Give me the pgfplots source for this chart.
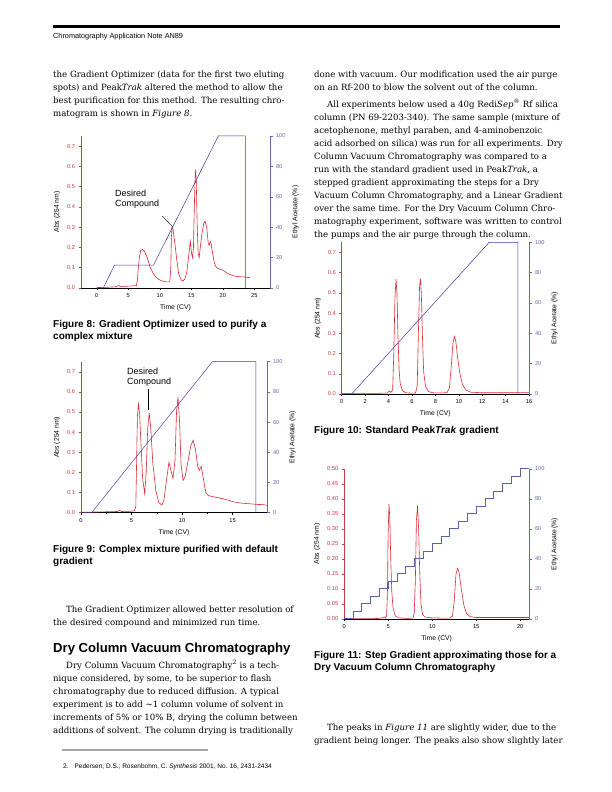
\documentclass[border=0pt]{standalone}
\usepackage{fontspec}
\setmainfont{DejaVu Serif}
\setsansfont{Liberation Sans}
\usepackage{graphicx}
\usepackage{pgfplots}
\pgfplotsset{compat=1.18}

\definecolor{redtr}{RGB}{222,40,52}
\definecolor{redax}{RGB}{205,60,70}
\definecolor{blueax}{RGB}{100,108,175}
\definecolor{bluegr}{RGB}{60,60,160}
\definecolor{bluestep}{RGB}{90,100,165}

\newcommand\tickfont{\fontsize{5.7bp}{6bp}\selectfont\sffamily}
\newcommand\labfont{\fontsize{6.8bp}{7bp}\selectfont\sffamily}
\newcommand\annf{\fontsize{9bp}{10bp}\selectfont\sffamily}
\newcommand\body{\fontsize{8.6bp}{13bp}\selectfont\rmfamily}
\newcommand\capf{\fontsize{10bp}{12bp}\selectfont\sffamily\bfseries}
\newcommand\headf{\fontsize{7.3bp}{8bp}\selectfont\sffamily}
\newcommand\tl[3]{\node[anchor=base west, inner sep=0] at (#1,#2) {\body #3};}
\newcommand\cl[3]{\node[anchor=base west, inner sep=0] at (#1,#2) {\capf #3};}

\pgfplotsset{
  /pgf/number format/assume math mode=true,
  leftax/.style={scale only axis, axis x line*=bottom, axis y line*=left, tick align=outside,
    clip=false, ymin=0, ymax=0.75, ytick={0,0.1,0.2,0.3,0.4,0.5,0.6,0.7},
    axis line style={-},
    y axis line style={redax, line width=0.6pt}, ytick style={redax, line width=0.5pt},
    yticklabel style={text=redax, font=\tickfont, /pgf/number format/.cd, fixed, fixed zerofill, precision=1},
    x axis line style={black, line width=0.5pt}, xtick style={black, line width=0.5pt},
    xticklabel style={font=\tickfont},
    minor x tick num=1,
    major tick length=2.5bp, minor tick length=1.5bp,
    xlabel={Time (CV)}, ylabel={Abs (254 nm)}, label style={font=\labfont},
  },
  rightax/.style={scale only axis, axis x line=none, axis y line*=right, tick align=outside,
    clip=false, ymin=0, ymax=100, ytick={0,20,40,60,80,100},
    axis line style={-},
    y axis line style={blueax, line width=0.6pt}, ytick style={blueax, line width=0.5pt},
    yticklabel style={text=blueax, font=\tickfont},
    major tick length=2.5bp,
    ylabel={Ethyl Acetate (\%)}, label style={font=\labfont},
  },
}

\begin{document}
\begin{tikzpicture}[x=1bp,y=1bp]
\useasboundingbox (0,0) rectangle (612,792);
\fill[white] (0,0) rectangle (612,792);
% header
\draw[line width=3bp] (53,765) -- (560,765);
\node[anchor=base west, inner sep=0] at (53,753.5) {\headf Chromatography Application Note AN89};

% left column text
\tl{53}{714}{the Gradient Optimizer (data for the first two eluting}
\tl{53}{701}{spots) and Peak\textit{Trak} altered the method to allow the}
\tl{53}{688}{best purification for this method. The resulting chro-}
\tl{53}{675}{matogram is shown in \textit{Figure 8}.}

\cl{53}{464.5}{Figure 8: Gradient Optimizer used to purify a}
\cl{53}{452.5}{complex mixture}
\cl{53}{239.5}{Figure 9: Complex mixture purified with default}
\cl{53}{227.5}{gradient}

\tl{66}{179.5}{The Gradient Optimizer allowed better resolution of}
\tl{53}{166.5}{the desired compound and minimized run time.}

\node[anchor=base west, inner sep=0] at (53,139) {\fontsize{13.1bp}{14bp}\selectfont\sffamily\bfseries Dry Column Vacuum Chromatography};

\tl{66}{123.5}{Dry Column Vacuum Chromatography\textsuperscript{2} is a tech-}
\tl{53}{110.5}{nique considered, by some, to be superior to flash}
\tl{53}{97.5}{chromatography due to reduced diffusion. A typical}
\tl{53}{84.5}{experiment is to add \textasciitilde1 column volume of solvent in}
\tl{53}{71.5}{increments of 5\% or 10\% B, drying the column between}
\tl{53}{58.5}{additions of solvent. The column drying is traditionally}

\draw[gray!70, line width=1.3bp] (62,42) -- (208,42);
\node[anchor=base west, inner sep=0] at (63,23.5) {\fontsize{6.5bp}{7bp}\selectfont\sffamily 2.\hspace{6bp}Pedersen, D.S.; Rosenbohm, C. \textit{Synthesis} 2001, No. 16, 2431-2434};

% right column text
\tl{314}{714}{done with vacuum. Our modification used the air purge}
\tl{314}{701}{on an Rf-200 to blow the solvent out of the column.}
\tl{327}{684.5}{All experiments below used a 40g Redi\textit{Sep}\textsuperscript{®} Rf silica}
\tl{314}{671.5}{column (PN 69-2203-340). The same sample (mixture of}
\tl{314}{658.5}{acetophenone, methyl paraben, and 4-aminobenzoic}
\tl{314}{645.5}{acid adsorbed on silica) was run for all experiments. Dry}
\tl{314}{632.5}{Column Vacuum Chromatography was compared to a}
\tl{314}{619.5}{run with the standard gradient used in Peak\textit{Trak}, a}
\tl{314}{606.5}{stepped gradient approximating the steps for a Dry}
\tl{314}{593.5}{Vacuum Column Chromatography, and a Linear Gradient}
\tl{314}{580.5}{over the same time. For the Dry Vacuum Column Chro-}
\tl{314}{567.5}{matography experiment, software was written to control}
\tl{314}{554.5}{the pumps and the air purge through the column.}

\cl{314}{358.5}{Figure 10: Standard Peak\textit{Trak} gradient}
\cl{314}{133.5}{Figure 11: Step Gradient approximating those for a}
\cl{314}{121.5}{Dry Vacuum Column Chromatography}

\tl{327}{61.5}{The peaks in \textit{Figure 11} are slightly wider, due to the}
\tl{314}{48.5}{gradient being longer. The peaks also show slightly later}

% ---------- Figure 8 ----------
\begin{axis}[leftax, at={(81bp,504bp)}, anchor=south west, width=189bp, height=152bp,
  xmin=-2.5, xmax=27.5, xtick={0,5,10,15,20,25}]
\addplot[redtr, line width=0.6pt] coordinates {
(0,0.002)(1,0.003)(2,0.004)(3,0.006)(3.5,0.012)(3.8,0.006)(4.5,0.008)(5.5,0.010)(6.3,0.012)
(6.45,0.04)(6.6,0.10)(6.8,0.16)(7.0,0.185)(7.25,0.19)(7.6,0.18)(8.0,0.15)(8.5,0.10)(9.0,0.07)
(9.5,0.05)(10,0.04)(10.5,0.033)(11,0.03)(11.6,0.03)(11.75,0.10)(11.85,0.25)(11.95,0.30)
(12.1,0.29)(12.4,0.22)(12.7,0.14)(13.0,0.07)(13.4,0.04)(13.7,0.035)(14.0,0.045)(14.3,0.08)
(14.6,0.16)(14.85,0.23)(15.05,0.17)(15.2,0.15)(15.35,0.20)(15.45,0.35)(15.6,0.53)(15.7,0.585)
(15.8,0.52)(15.95,0.30)(16.1,0.17)(16.25,0.15)(16.4,0.19)(16.7,0.27)(17.0,0.32)(17.2,0.33)
(17.45,0.30)(17.7,0.22)(17.85,0.21)(18.0,0.23)(18.15,0.22)(18.4,0.17)(18.7,0.12)(19.0,0.10)
(19.5,0.093)(20,0.088)(20.5,0.078)(21,0.068)(21.6,0.061)(22,0.058)(22.5,0.056)(23,0.055)
(23.5,0.054)(24,0.052)(24.4,0.05)
};
\node[anchor=base west, inner sep=0, font=\annf] at (axis cs:2.9,0.45) {Desired};
\node[anchor=base west, inner sep=0, font=\annf] at (axis cs:2.9,0.40) {Compound};
\draw[black, line width=0.4pt] (axis cs:10.4,0.355) -- (axis cs:12.1,0.30);
\end{axis}
\begin{axis}[rightax, at={(81bp,504bp)}, anchor=south west, width=189bp, height=152bp,
  xmin=-2.5, xmax=27.5]
\addplot[bluegr, line width=0.5pt] coordinates {(0,0)(1.05,0)(2.8,15)(9.0,15)(19.3,100)(23.6,100)(23.6,0)};
\end{axis}

% ---------- Figure 9 ----------
\begin{axis}[leftax, at={(81bp,279.3bp)}, anchor=south west, width=186bp, height=151bp,
  xmin=0, xmax=18.4, xtick={0,5,10,15}]
\addplot[redtr, line width=0.6pt] coordinates {
(0,0.002)(1,0.003)(2,0.004)(3,0.005)(3.6,0.006)(3.8,0.012)(4.0,0.006)(4.5,0.005)(5.0,0.008)
(5.3,0.01)(5.42,0.03)(5.5,0.25)(5.58,0.48)(5.68,0.54)(5.8,0.49)(5.95,0.32)(6.1,0.17)(6.3,0.095)
(6.45,0.20)(6.6,0.42)(6.75,0.495)(6.9,0.42)(7.1,0.25)(7.4,0.11)(7.7,0.05)(8.0,0.038)(8.2,0.06)
(8.45,0.16)(8.7,0.25)(8.9,0.21)(9.1,0.17)(9.3,0.26)(9.45,0.50)(9.6,0.575)(9.75,0.45)(9.9,0.24)
(10.1,0.16)(10.3,0.18)(10.6,0.26)(10.85,0.33)(11.1,0.36)(11.3,0.32)(11.55,0.23)(11.7,0.21)
(11.9,0.23)(12.1,0.17)(12.35,0.10)(12.6,0.085)(13,0.08)(13.5,0.075)(14,0.07)(14.5,0.063)
(15,0.055)(15.5,0.05)(16,0.047)(16.5,0.045)(17,0.043)(17.5,0.041)(18,0.04)(18.4,0.037)
};
\node[anchor=base west, inner sep=0, font=\annf] at (axis cs:4.55,0.685) {Desired};
\node[anchor=base west, inner sep=0, font=\annf] at (axis cs:4.55,0.635) {Compound};
\draw[black, line width=0.5pt] (axis cs:6.67,0.615) -- (axis cs:6.67,0.51);
\end{axis}
\begin{axis}[rightax, at={(81bp,279.3bp)}, anchor=south west, width=186bp, height=151bp,
  xmin=0, xmax=18.4]
\addplot[bluegr, line width=0.5pt] coordinates {(0,0)(1.05,0)(13.0,100)(17.3,100)(17.3,0)};
\end{axis}

% ---------- Figure 10 ----------
\begin{axis}[leftax, at={(341.7bp,398bp)}, anchor=south west, width=187.3bp, height=151.7bp,
  xmin=0, xmax=16, xtick={0,2,4,6,8,10,12,14,16}]
\addplot[redtr, line width=0.6pt] coordinates {
(0,0.003)(1,0.003)(2,0.003)(3,0.003)(3.9,0.005)(4.05,0.015)(4.2,0.008)(4.35,0.02)(4.45,0.2)
(4.55,0.48)(4.64,0.568)(4.72,0.50)(4.8,0.3)(4.9,0.12)(5.0,0.05)(5.2,0.015)(5.5,0.006)(6.0,0.004)
(6.3,0.005)(6.45,0.04)(6.55,0.30)(6.65,0.53)(6.72,0.571)(6.8,0.50)(6.9,0.28)(7.0,0.11)(7.15,0.04)
(7.4,0.012)(7.8,0.006)(8.5,0.005)(9.0,0.007)(9.2,0.03)(9.35,0.13)(9.5,0.25)(9.63,0.284)(9.75,0.26)
(9.9,0.18)(10.1,0.10)(10.3,0.05)(10.6,0.02)(11,0.009)(12,0.006)(13,0.006)(14,0.006)(15,0.006)(16,0.006)
};
\end{axis}
\begin{axis}[rightax, at={(341.7bp,398bp)}, anchor=south west, width=187.3bp, height=151.7bp,
  xmin=0, xmax=16]
\addplot[bluegr, line width=0.5pt] coordinates {(0,0)(0.85,0)(12.6,100)(15.05,100)(15.05,0)};
\end{axis}

% ---------- Figure 11 ----------
\begin{axis}[leftax, at={(344.3bp,173bp)}, anchor=south west, width=184.7bp, height=150bp,
  xmin=0, xmax=21, xtick={0,5,10,15,20}, ymax=0.5,
  ytick={0,0.05,0.1,0.15,0.2,0.25,0.3,0.35,0.4,0.45,0.5},
  yticklabel style={/pgf/number format/.cd, fixed, fixed zerofill, precision=2}]
\addplot[redtr, line width=0.6pt] coordinates {
(0,0.001)(1,0.001)(2,0.001)(3,0.001)(4,0.002)(4.4,0.005)(4.55,0.007)(4.7,0.003)(4.8,0.01)
(4.9,0.08)(4.98,0.28)(5.08,0.384)(5.18,0.33)(5.28,0.20)(5.4,0.09)(5.55,0.035)(5.8,0.01)(6.2,0.004)
(7,0.002)(7.8,0.003)(7.95,0.02)(8.08,0.13)(8.2,0.33)(8.33,0.378)(8.45,0.30)(8.58,0.15)(8.72,0.05)
(8.9,0.015)(9.2,0.006)(10,0.004)(11,0.003)(12,0.003)(12.3,0.01)(12.5,0.06)(12.7,0.15)(12.88,0.169)
(13.05,0.155)(13.3,0.10)(13.6,0.045)(13.9,0.018)(14.3,0.008)(15,0.005)(16,0.005)(17,0.005)
(18,0.005)(19,0.005)(20,0.005)(21,0.005)
};
\end{axis}
\begin{axis}[rightax, at={(344.3bp,173bp)}, anchor=south west, width=184.7bp, height=150bp,
  xmin=0, xmax=21]
\addplot[bluestep, line width=1.0pt, const plot] coordinates {
(0,0)(1,5)(2,10)(3,15)(4,20)(5,25)(6,30)(7,35)(8,40)(9,45)(10,50)(11,55)(12,60)(13,65)
(14,70)(15,75)(16,80)(17,85)(18,90)(19,95)(20,100)(21,100)};
\end{axis}
\end{tikzpicture}
\end{document}
